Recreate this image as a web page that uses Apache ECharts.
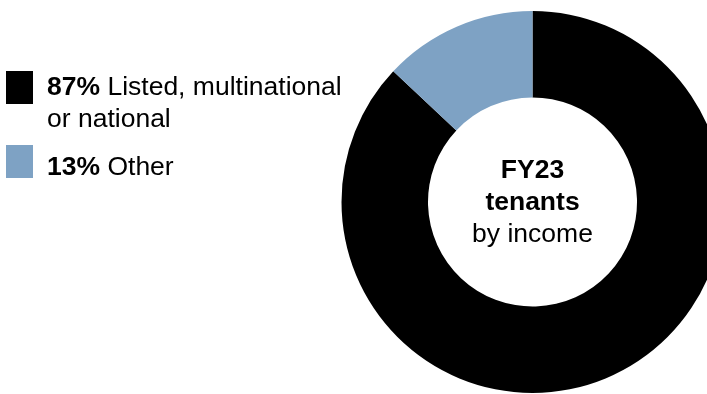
<!DOCTYPE html>
<html>
<head>
<meta charset="utf-8">
<script src="https://cdn.jsdelivr.net/npm/echarts@6/dist/echarts.min.js"></script>
<style>
  html, body { margin: 0; padding: 0; background: #ffffff; }
  #chart { width: 707px; height: 394px; }
</style>
</head>
<body>
<div id="chart"></div>
<script>
// Tenant mix by income, FY23
const categories = ['Listed, multinational\nor national', 'Other'];
const shares = [87, 13];
const colors = ['#000000', '#7ea2c4'];
const centreTitle = ['FY23', 'tenants'];
const centreSubtitle = 'by income';

const FONT = '"Liberation Sans", Arial, sans-serif';
const SIZE = 26.5;
const chart = echarts.init(document.getElementById('chart'), null, { renderer: 'canvas' });

// Legend built as graphic blocks: swatch + bold share + category name
const swatchTops = [71, 145];
const textTops = [74, 154];
const legendGraphics = [];
categories.forEach((name, i) => {
  const lines = name.split('\n');
  legendGraphics.push({
    type: 'rect',
    left: 6, top: swatchTops[i],
    shape: { width: 27, height: 33 },
    style: { fill: colors[i] },
    silent: true
  });
  const first = '{b|' + shares[i] + '%}{r| ' + lines[0] + '}';
  const rest = lines.slice(1).map(l => '{r|' + l + '}');
  legendGraphics.push({
    type: 'text',
    left: 47, top: textTops[i],
    style: {
      text: [first].concat(rest).join('\n'),
      rich: {
        b: { fontFamily: FONT, fontSize: SIZE, fontWeight: 'bold', lineHeight: 32, fill: '#000' },
        r: { fontFamily: FONT, fontSize: SIZE, lineHeight: 32, fill: '#000' }
      }
    },
    silent: true
  });
});

// Label in the hole of the donut
legendGraphics.push({
  type: 'text',
  x: 532.5, y: 203,
  style: {
    text: centreTitle.map(t => '{b|' + t + '}').join('\n') + '\n{r|' + centreSubtitle + '}',
    align: 'center',
    verticalAlign: 'middle',
    rich: {
      b: { fontFamily: FONT, fontSize: SIZE, fontWeight: 'bold', lineHeight: 32, fill: '#000', align: 'center' },
      r: { fontFamily: FONT, fontSize: SIZE, lineHeight: 32, fill: '#000', align: 'center' }
    }
  },
  silent: true
});

chart.setOption({
  animation: false,
  backgroundColor: '#ffffff',
  graphic: legendGraphics,
  series: [{
    type: 'pie',
    center: [532.5, 202],
    radius: [104.5, 191],
    startAngle: 90,
    clockwise: true,
    label: { show: false },
    labelLine: { show: false },
    emphasis: { disabled: true },
    itemStyle: { borderWidth: 0 },
    data: categories.map((c, i) => ({ name: c, value: shares[i], itemStyle: { color: colors[i] } }))
  }]
});
</script>
</body>
</html>
